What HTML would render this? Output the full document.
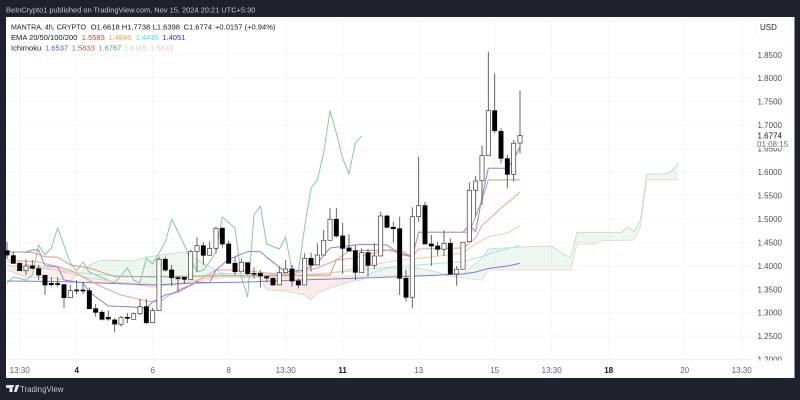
<!DOCTYPE html>
<html lang="en">
<head>
<meta charset="utf-8">
<title>MANTRA 4h chart</title>
<style>
html,body{margin:0;padding:0;background:#1e222d;width:800px;height:400px;overflow:hidden}
svg{display:block;font-family:"Liberation Sans",sans-serif}
</style>
</head>
<body>
<svg id="chart" xmlns="http://www.w3.org/2000/svg" width="800" height="400" viewBox="0 0 800 400">
  <rect x="0" y="0" width="800" height="400" fill="#1e222d"/>
  <text x="6" y="12.7" font-size="7.45" fill="#c3c6ce">BeInCrypto1 published on TradingView.com, Nov 15, 2024 20:21 UTC+5:30</text>
  <rect x="6" y="17" width="788.5" height="361" fill="#ffffff"/>
  <g id="grid"></g>
  <g id="cloud"></g>
  <g id="lines"></g>
  <g id="candles"></g>
  <g id="yaxis"></g>
  <g id="xaxis"></g>
  <rect x="755" y="19" width="36" height="16" rx="3" fill="#ffffff" stroke="#f4f5f7" stroke-width="0.8"/>
  <text x="760" y="30" font-size="8" fill="#2a2e39">USD</text>
  <rect x="755" y="130" width="36" height="18" fill="#ffffff"/>
  <rect x="755" y="360.5" width="36" height="5" fill="#ffffff"/>
  <text x="757.5" y="138.5" font-size="8" fill="#131722">1.6774</text>
  <text x="757" y="147" font-size="8" fill="#6a6d78">01:08:15</text>

  <g font-size="7.55">
    <g fill="#131722">
      <text x="11" y="29.5" textLength="75" lengthAdjust="spacingAndGlyphs">MANTRA, 4h, CRYPTO</text>
      <text x="90.7" y="29.5">O1.6618</text>
      <text x="121.7" y="29.5">H1.7738</text>
      <text x="152.7" y="29.5">L1.6398</text>
      <text x="183.5" y="29.5">C1.6774</text>
      <text x="215" y="29.5">+0.0157 (+0.94%)</text>
    </g>
    <g>
      <text x="11" y="40" fill="#131722">EMA 20/50/100/200</text>
      <text x="81.7" y="40" fill="#e53935">1.5583</text>
      <text x="108.3" y="40" fill="#f7a24a">1.4846</text>
      <text x="135.7" y="40" fill="#3fdcec">1.4435</text>
      <text x="162.3" y="40" fill="#2a32c8">1.4051</text>
    </g>
    <g>
      <text x="11" y="50.5" fill="#131722">Ichimoku</text>
      <text x="45" y="50.5" fill="#5b55d6">1.6537</text>
      <text x="71.7" y="50.5" fill="#b5523f">1.5833</text>
      <text x="98.3" y="50.5" fill="#4f9e72">1.6767</text>
      <text x="124" y="50.5" fill="#b6dcc4">1.6185</text>
      <text x="150" y="50.5" fill="#f3c4b8">1.5833</text>
    </g>
  </g>

  <g>
    <path d="M6 385h6.5v7h-3v-4H6z M15.8 385h3.4l-2.6 7h-2.6z M12.8 385a1.2 1.2 0 1 1 0 2.4a1.2 1.2 0 1 1 0-2.4z" fill="#e8e9ec"/>
    <text x="20" y="392" font-size="7.9" fill="#c3c6ce">TradingView</text>
  </g>
</svg>
<script>
// Candles: one value per bar
const opens=[1.4322,1.4216,1.4053,1.3896,1.3996,1.3938,1.3798,1.3627,1.3623,1.3597,1.3320,1.3484,1.3484,1.3469,1.3085,1.3009,1.2902,1.2845,1.2753,1.2902,1.2860,1.2979,1.3128,1.2787,1.3043,1.4139,1.3911,1.3746,1.3755,1.3712,1.4301,1.4429,1.4224,1.4373,1.4800,1.4465,1.4053,1.3874,1.4066,1.3840,1.3840,1.3768,1.3734,1.3591,1.3853,1.3932,1.3676,1.3591,1.4160,1.4017,1.4230,1.4544,1.4992,1.4636,1.4380,1.4322,1.3853,1.4280,1.4011,1.4209,1.5062,1.4821,1.4791,1.3734,1.3329,1.5047,1.5282,1.4465,1.4422,1.4352,1.4480,1.3825,1.3926,1.4514,1.5610,1.5814,1.6348,1.7307,1.6868,1.6284,1.5951,1.6618];
const highs=[1.4514,1.4294,1.4088,1.4139,1.4124,1.4017,1.3804,1.3761,1.3761,1.3612,1.3591,1.3697,1.3661,1.3540,1.3184,1.3058,1.3043,1.2881,1.2930,1.2994,1.3000,1.3292,1.3292,1.3101,1.4194,1.4188,1.4017,1.3783,1.3761,1.4337,1.4608,1.4501,1.4514,1.4834,1.4827,1.4535,1.4188,1.4160,1.4071,1.3968,1.3911,1.3789,1.3747,1.3981,1.4124,1.4017,1.3734,1.4267,1.4280,1.4480,1.4763,1.5226,1.5226,1.4913,1.4672,1.4444,1.4373,1.4358,1.4480,1.5154,1.5083,1.4940,1.5047,1.3911,1.5247,1.6326,1.5367,1.4657,1.4514,1.4763,1.4586,1.3996,1.4508,1.5780,1.5915,1.6569,1.8565,1.8104,1.6932,1.6362,1.6682,1.7738];
const lows=[1.4145,1.4039,1.3889,1.3804,1.3926,1.3697,1.3378,1.3555,1.3549,1.3101,1.3314,1.3399,1.3399,1.3079,1.2915,1.2830,1.2830,1.2582,1.2702,1.2781,1.2855,1.2951,1.2759,1.2781,1.3037,1.3874,1.3570,1.3441,1.3612,1.3708,1.3874,1.4017,1.4220,1.4267,1.4386,1.4049,1.3804,1.3868,1.3804,1.3734,1.3542,1.3661,1.3576,1.3587,1.3847,1.3555,1.3520,1.3587,1.3874,1.4013,1.4226,1.4540,1.4608,1.3825,1.4311,1.3697,1.3847,1.3768,1.3932,1.4205,1.4800,1.4493,1.3378,1.3235,1.3094,1.4940,1.4461,1.4002,1.4216,1.4209,1.3821,1.3576,1.3921,1.4508,1.5047,1.5296,1.6341,1.6825,1.6185,1.5652,1.5793,1.6398];
const closes=[1.4230,1.4053,1.3896,1.3996,1.3947,1.3804,1.3591,1.3597,1.3601,1.3320,1.3469,1.3463,1.3463,1.3085,1.3009,1.2860,1.2866,1.2759,1.2894,1.2881,1.2979,1.3128,1.2787,1.3043,1.4139,1.3911,1.3746,1.3725,1.3712,1.4301,1.4429,1.4224,1.4373,1.4800,1.4465,1.4053,1.3874,1.4075,1.3832,1.3825,1.3783,1.3740,1.3591,1.3853,1.3932,1.3676,1.3591,1.4160,1.4017,1.4230,1.4544,1.4992,1.4636,1.4373,1.4316,1.3862,1.4280,1.4011,1.4209,1.5062,1.4821,1.4791,1.3734,1.3329,1.5047,1.5282,1.4465,1.4422,1.4352,1.4480,1.3825,1.3926,1.4501,1.5610,1.5808,1.6348,1.7307,1.6881,1.6292,1.5951,1.6612,1.6774];

// Indicators: bar numbers and the values read at those bars
const ema20Bars=[0,5,10,15,18,22,24,27,29,31,33,37,41,45,49,52,55,60,62,64,65,72,74,75,76,78,80,81];
const ema20Values=[1.4124,1.4081,1.3911,1.3548,1.3378,1.3250,1.3228,1.3484,1.3591,1.3761,1.3911,1.3911,1.3847,1.3825,1.3953,1.4124,1.4166,1.4337,1.4273,1.4209,1.4358,1.4380,1.4593,1.4870,1.4977,1.5232,1.5446,1.5583];
const ema50Bars=[0,5,13,23,27,30,34,43,51,57,61,67,72,74,76,79,81];
const ema50Values=[1.4081,1.3996,1.3740,1.3548,1.3612,1.3697,1.3804,1.3768,1.3847,1.3996,1.4103,1.4188,1.4273,1.4465,1.4614,1.4699,1.4846];
const ema100Bars=[0,5,13,23,30,34,40,46,53,61,67,72,75,77,81];
const ema100Values=[1.4017,1.3953,1.3825,1.3751,1.3772,1.3836,1.3825,1.3804,1.3868,1.3981,1.4039,1.4088,1.4198,1.4294,1.4435];
const ema200Bars=[0,8,15,19,23,30,38,46,54,61,65,72,74,76,79,81];
const ema200Values=[1.3676,1.3666,1.3633,1.3612,1.3591,1.3633,1.3655,1.3697,1.3729,1.3761,1.3783,1.3825,1.3868,1.3943,1.3996,1.4051];
const conversionBars=[0,3,4,5,6,8,9,12,13,16,20,22,23,25,27,30,32,33,35,38,40,41,44,47,49,51,56,60,62,64,65,72,73,74,75,76,79,80,81];
const conversionValues=[1.4294,1.4294,1.4337,1.4337,1.4002,1.3981,1.3697,1.3633,1.3442,1.3143,1.3122,1.3101,1.3228,1.3378,1.3442,1.3655,1.3640,1.3911,1.4139,1.4301,1.4301,1.4181,1.3874,1.3911,1.4060,1.4380,1.4459,1.4444,1.4252,1.4188,1.4714,1.4714,1.4870,1.4727,1.5467,1.6079,1.6079,1.6256,1.6537];
const baseBars=[0,4,6,8,10,13,17,51,52,54,60,62,64,65,73,75,76,81];
const baseValues=[1.4301,1.4284,1.4194,1.4181,1.4017,1.3953,1.3768,1.3804,1.4124,1.4316,1.4337,1.4337,1.4188,1.4714,1.4714,1.5403,1.5829,1.5833];
const laggingBars=[0,1,3,4,5,6,7,8,10,11,12,13,14,17,19,20,21,22,23,25,26,28,30,31,32,33,34,36,37,38,39,40,41,43,44,45,46,47,48,49,50,51,52,53,54,55,56];
const laggingValues=[1.3633,1.3761,1.3697,1.3804,1.4444,1.4230,1.4380,1.4806,1.4060,1.3889,1.4081,1.3868,1.3804,1.3633,1.3953,1.3697,1.3633,1.4166,1.4039,1.4508,1.4998,1.4444,1.3868,1.3911,1.4081,1.4294,1.5041,1.4806,1.3761,1.3335,1.5083,1.5275,1.4465,1.4358,1.4614,1.3911,1.3868,1.4827,1.5659,1.5829,1.6405,1.7307,1.6831,1.6298,1.5957,1.6618,1.6767];
const spanABars=[0,3,7,10,13,15,20,22,28,31,33,35,40,41,44,47,48,49,51,54,56,57,60,65,67,69,72,75,76,81,86,88,89,90,97,98,99,100,101,104,105,106];
const spanAValues=[1.3911,1.3761,1.3740,1.3676,1.4017,1.4124,1.4103,1.4188,1.4294,1.4060,1.3911,1.3761,1.3740,1.3484,1.3463,1.3378,1.3271,1.3420,1.3527,1.3655,1.3697,1.3825,1.3953,1.3953,1.3896,1.3825,1.3825,1.4166,1.4358,1.4401,1.4422,1.4230,1.4173,1.4714,1.4714,1.4834,1.4727,1.4962,1.5957,1.5957,1.6028,1.6185];
const spanBBars=[0,4,8,10,13,20,25,30,35,40,60,69,73,75,76,89,90,93,94,99,100,101,106];
const spanBValues=[1.3975,1.3975,1.3953,1.3911,1.3655,1.3633,1.3591,1.3676,1.3761,1.3783,1.3783,1.3804,1.3719,1.3697,1.3911,1.3911,1.4459,1.4459,1.4535,1.4550,1.4821,1.5833,1.5833];

// Axis ticks
const priceTicks=["1.8500","1.8000","1.7500","1.7000","1.6500","1.6000","1.5500","1.5000","1.4500","1.4000","1.3500","1.3000","1.2500","1.2000"];
const timeLabels=["13:30","4","6","8","13:30","11","13","15","13:30","18","20","13:30"];
const timeBars=[2,11,23,35,44,53,65,77,86,95,107,116];
const timeBold=[false,true,false,false,false,true,false,false,false,true,false,false];

const NS='http://www.w3.org/2000/svg';
function xAt(bar){return 7+bar*(76/12);}
function yAt(price){return 172-(price-1.6)*469;}
function make(parent,tag,attrs){
  const el=document.createElementNS(NS,tag);
  for(const k in attrs){el.setAttribute(k,attrs[k]);}
  parent.appendChild(el);
  return el;
}
function pointsOf(bars,values){
  return bars.map(function(b,i){return xAt(b).toFixed(2)+','+yAt(values[i]).toFixed(2);});
}

// Grid and axes
const grid=document.getElementById('grid');
const yaxis=document.getElementById('yaxis');
const xaxis=document.getElementById('xaxis');
priceTicks.forEach(function(t){
  const y=yAt(parseFloat(t));
  const gl=make(grid,'line',{x1:6,x2:752,y1:y,y2:y,stroke:'#f4f5f7','stroke-width':0.8});
  
  
  const lb=make(yaxis,'text',{x:757.5,y:y+3,'font-size':8,fill:'#4a4e5a'});
  lb.textContent=t;
  
  
});
timeLabels.forEach(function(t,i){
  const x=xAt(timeBars[i]);
  const gl=make(grid,'line',{x1:x,x2:x,y1:17,y2:359,stroke:'#f4f5f7','stroke-width':0.8});
  
  
  const lb=make(xaxis,'text',{x:x,y:373,'font-size':8,'text-anchor':'middle',fill:timeBold[i]?'#131722':'#5d606b','font-weight':timeBold[i]?'700':'400'});
  lb.textContent=t;
  
  
});
const axisRule=make(grid,'line',{x1:6,x2:752,y1:359,y2:359,stroke:'#f0f1f3','stroke-width':0.8});



// Cloud: the A/B polygon is split along span B into bullish and bearish parts
const cloud=document.getElementById('cloud');
const ptsA=pointsOf(spanABars,spanAValues);
const ptsB=pointsOf(spanBBars,spanBValues);
const firstX=xAt(spanBBars[0]);
const lastX=xAt(spanBBars[spanBBars.length-1]);
const defs=make(cloud,'defs',{});
const clipUp=make(defs,'clipPath',{id:'above-span-b'});
make(clipUp,'polygon',{points:firstX+',0 '+ptsB.join(' ')+' '+lastX+',0'});
const clipDown=make(defs,'clipPath',{id:'below-span-b'});
make(clipDown,'polygon',{points:firstX+',400 '+ptsB.join(' ')+' '+lastX+',400'});
const cloudPts=ptsA.join(' ')+' '+ptsB.slice().reverse().join(' ');
const cloudUp=make(cloud,'polygon',{points:cloudPts,fill:'#5aa97c','fill-opacity':0.11,'clip-path':'url(#above-span-b)'});


const cloudDown=make(cloud,'polygon',{points:cloudPts,fill:'#e8604c','fill-opacity':0.12,'clip-path':'url(#below-span-b)'});



// Lines
const lines=document.getElementById('lines');
function drawLine(bars,values,color,width){
  return make(lines,'polyline',{points:pointsOf(bars,values).join(' '),fill:'none',stroke:color,'stroke-width':width,'stroke-linejoin':'round'});
}
const spanALine=drawLine(spanABars,spanAValues,'#bcdcc9',0.8);


const spanBLine=drawLine(spanBBars,spanBValues,'#f5d0c6',0.8);


const laggingLine=drawLine(laggingBars,laggingValues,'#8cc5a6',1);


const ema100Line=drawLine(ema100Bars,ema100Values,'#9fe8e5',1);


const ema50Line=drawLine(ema50Bars,ema50Values,'#f7c9a6',1);


const ema200Line=drawLine(ema200Bars,ema200Values,'#7c80dc',1);


const ema20Line=drawLine(ema20Bars,ema20Values,'#f0a097',1);


const conversionLine=drawLine(conversionBars,conversionValues,'#8682e2',1);


const baseLine=drawLine(baseBars,baseValues,'#cc9c88',1);



// Candles
const candles=document.getElementById('candles');
opens.forEach(function(o,i){
  const c=closes[i];
  const x=xAt(i);
  const up=c>=o;
  const top=yAt(Math.max(o,c));
  const bottom=yAt(Math.min(o,c));
  const wick=make(candles,'line',{x1:x,x2:x,y1:yAt(highs[i]),y2:yAt(lows[i]),stroke:'#555555','stroke-width':0.9});
  
  
  const body=make(candles,'rect',{x:x-2.1,y:top,width:4.2,height:Math.max(bottom-top,1),fill:up?'#ffffff':'#000000',stroke:up?'#3a3a3a':'#000000','stroke-width':0.7});
  
  
});
</script>
</body>
</html>
